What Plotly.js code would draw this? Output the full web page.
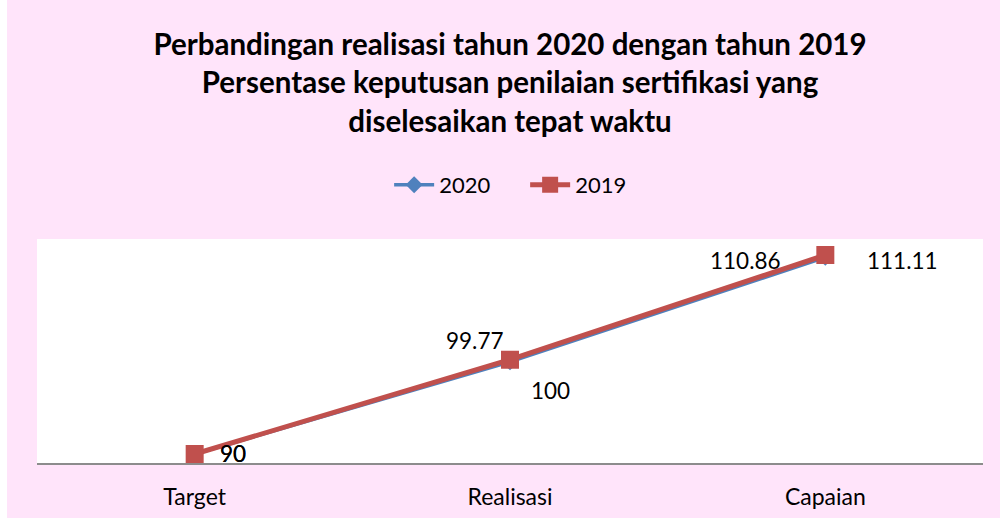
<!DOCTYPE html>
<html>
<head>
<meta charset="utf-8">
<script src="https://cdn.plot.ly/plotly-3.0.1.min.js"></script>
<style>
  html, body { margin: 0; padding: 0; background: #ffffff; }
  #chart { position: absolute; left: 7px; top: 0px; width: 993px; height: 518px; }
</style>
</head>
<body>
<div id="chart"></div>
<script>
// ---- data ----
const categories = ["Target", "Realisasi", "Capaian"];
const values2020 = [90, 99.77, 110.86];
const values2019 = [90, 100, 111.11];
const seriesNames = ["2020", "2019"];
const titleLines = [
  "Perbandingan realisasi tahun 2020 dengan tahun 2019",
  "Persentase keputusan penilaian sertifikasi yang",
  "diselesaikan tepat waktu"
];

// ---- styling ----
const FONT = "Lato, 'Open Sans', sans-serif";
const BLUE = "#4F81BD";
const RED = "#C0504D";
const PINK = "#FFE4FA";

const traces = [
  {
    type: "scatter", mode: "lines+markers", name: seriesNames[0],
    x: categories, y: values2020,
    line: { color: BLUE, width: 3.5 },
    marker: { symbol: "diamond", size: 13, color: BLUE },
    cliponaxis: false
  },
  {
    type: "scatter", mode: "lines+markers", name: seriesNames[1],
    x: categories, y: values2019,
    line: { color: RED, width: 5 },
    marker: { symbol: "square", size: 18, color: RED },
    cliponaxis: false
  }
];

// label offsets (px) per point for each series
const off2020 = [[38, 1], [-35, 21], [-80, -3]];
const off2019 = [[38, 1], [40, -31], [77, -5]];

const annotations = [];
values2020.forEach((v, i) => {
  annotations.push({
    x: categories[i], y: v, xref: "x", yref: "y", text: String(v),
    showarrow: false, xanchor: "center", yanchor: "middle",
    xshift: off2020[i][0], yshift: off2020[i][1],
    font: { family: FONT, size: 22.5, color: "#000000" }
  });
});
values2019.forEach((v, i) => {
  annotations.push({
    x: categories[i], y: v, xref: "x", yref: "y", text: String(v),
    showarrow: false, xanchor: "center", yanchor: "middle",
    xshift: off2019[i][0], yshift: off2019[i][1],
    font: { family: FONT, size: 22.5, color: "#000000" }
  });
});

const layout = {
  width: 993, height: 518,
  paper_bgcolor: PINK,
  plot_bgcolor: "#ffffff",
  margin: { l: 30, r: 17, t: 239, b: 55 },
  title: {
    text: "<b>" + titleLines.join("<br>") + "</b>",
    font: { family: FONT, size: 29.5, color: "#000000" },
    x: 0.5, xanchor: "center", xref: "paper",
    y: 0.894, yanchor: "top", yref: "container"
  },
  showlegend: true,
  legend: {
    orientation: "h", x: 0.516, xanchor: "center", y: 1.241, yanchor: "middle",
    font: { family: FONT, size: 22, color: "#000000" },
    bgcolor: "rgba(0,0,0,0)", itemwidth: 40, traceorder: "normal",
    entrywidth: 81, entrywidthmode: "pixels"
  },
  xaxis: {
    type: "category", range: [-0.5, 2.5],
    showgrid: false, zeroline: false,
    showline: true, linecolor: "#8C8C8C", linewidth: 2,
    ticks: "", ticklabelstandoff: 12,
    tickfont: { family: FONT, size: 23, color: "#000000" },
    fixedrange: true
  },
  yaxis: {
    range: [89.045, 112.81],
    showgrid: false, zeroline: false, showline: false,
    showticklabels: false, ticks: "",
    fixedrange: true
  },
  annotations: annotations,
  font: { family: FONT }
};

Plotly.newPlot("chart", traces, layout, { displayModeBar: false, staticPlot: true });
</script>
</body>
</html>
